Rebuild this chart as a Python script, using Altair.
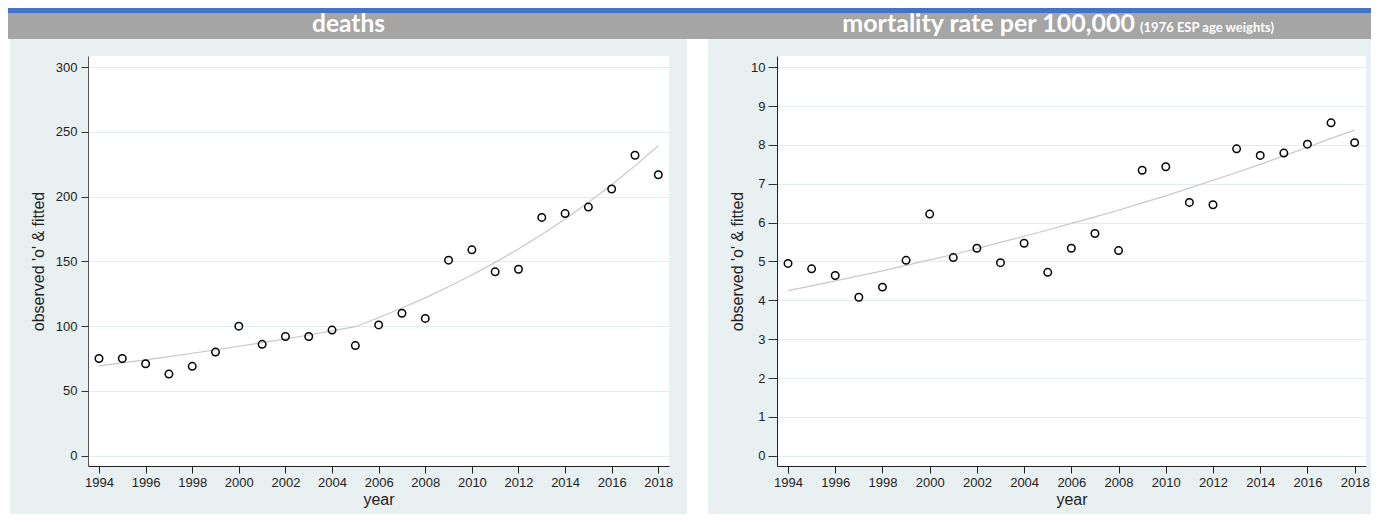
import altair as alt
import pandas as pd

years = list(range(1994, 2019))
deaths = [75, 75, 71, 63, 69, 80, 100, 86, 92, 92, 97, 85, 101, 110, 106,
          151, 159, 142, 144, 184, 187, 192, 206, 232, 217]
deaths_fit = [69.3, 71.6, 74.0, 76.5, 79.1, 81.7, 84.5, 87.3, 90.2, 93.2, 96.4, 99.6,
              106.5, 114.0, 121.9, 130.4, 139.5, 149.3, 159.7, 170.8, 182.8, 195.5,
              209.2, 223.8, 239.4]
rate = [4.95, 4.81, 4.64, 4.08, 4.34, 5.03, 6.22, 5.10, 5.34, 4.97, 5.47, 4.72, 5.34,
        5.72, 5.28, 7.35, 7.44, 6.52, 6.46, 7.90, 7.73, 7.79, 8.02, 8.57, 8.06]
rate_fit = [4.25, 4.37, 4.50, 4.63, 4.76, 4.90, 5.04, 5.18, 5.33, 5.49, 5.65, 5.81, 5.98,
            6.15, 6.32, 6.51, 6.69, 6.89, 7.09, 7.29, 7.50, 7.72, 7.94, 8.17, 8.38]
x_ticks = list(range(1994, 2019, 2))
left_y_ticks = [0, 50, 100, 150, 200, 250, 300]
right_y_ticks = list(range(0, 11))

left_title = "deaths"
right_title_main = "mortality rate per 100,000"
right_title_sub = "(1976 ESP age weights)"
y_title = "observed 'o' & fitted"
x_title = "year"

BLUE = "#4472C4"
HEAD = "#A5A5A5"
PANEL = "#E9F0F2"
GRID = "#E4ECEE"
FONT = "Liberation Sans"
HFONT = "Lato"

LW, RW, H = 581, 589, 410

left_df = pd.DataFrame({"year": years, "observed": deaths, "fitted": deaths_fit})
right_df = pd.DataFrame({"year": years, "observed": rate, "fitted": rate_fit})
one = pd.DataFrame({"k": [0]})


def x_axis(width):
    return alt.Axis(values=x_ticks, format="d", grid=False, domainColor="#222",
                    domainWidth=1, tickColor="#222", tickSize=7, tickWidth=1,
                    labelFont=FONT, labelFontSize=13, labelColor="#222", labelPadding=3,
                    title=x_title, titleFont=FONT, titleFontSize=16,
                    titleFontWeight="normal", titleColor="#222", titleX=width / 2,
                    titleY=38, titleBaseline="alphabetic", titleAlign="center")


def y_axis(ticks, tick_size, pad, title_x, dom_color):
    return alt.Axis(values=ticks, format="d", grid=True, gridColor=GRID, gridWidth=1,
                    domainColor=dom_color, domainWidth=1, tickColor="#333",
                    tickSize=tick_size, tickWidth=1, labelFont=FONT, labelFontSize=13,
                    labelColor="#222", labelPadding=pad, title=y_title, titleFont=FONT,
                    titleFontSize=16, titleFontWeight="normal", titleColor="#222",
                    titleX=title_x, titleY=H / 2, titleAngle=270,
                    titleBaseline="middle", titleAlign="center")


def panel(df, xdom, ydom, yticks, tick_size, pad, title_x, dom_color, width):
    xenc = alt.X("year:Q", scale=alt.Scale(domain=xdom, nice=False, zero=False),
                 axis=x_axis(width))
    line = alt.Chart(df).mark_line(color="#C8C8C8", strokeWidth=1.2).encode(
        x=xenc,
        y=alt.Y("fitted:Q", scale=alt.Scale(domain=ydom, nice=False, zero=False),
                axis=y_axis(yticks, tick_size, pad, title_x, dom_color)),
    )
    pts = alt.Chart(df).mark_point(shape="circle", filled=False, color="black",
                                   size=56, strokeWidth=1.5, opacity=1).encode(
        x=alt.X("year:Q"),
        y=alt.Y("observed:Q"),
    )
    return line, pts


def rect(x1, x2, y1, y2, color):
    return alt.Chart(one).mark_rect(color=color, clip=False).encode(
        x=alt.value(x1), x2=alt.value(x2), y=alt.value(y1), y2=alt.value(y2))


# decorations in left panel coordinates (plot origin at page 88,56)
deco_left = [
    rect(-80, 1283, -48, -43, BLUE),
    rect(-80, 1283, -43, -17, HEAD),
    rect(-80, -78, -17, 458, "white"),
    rect(599, 620, -17, 458, "white"),
    alt.Chart(one).mark_text(text=left_title, font=HFONT, fontSize=24.5, fontWeight="bold",
                             color="white", align="center", baseline="alphabetic").encode(
        x=alt.value(260.5), y=alt.value(-24)),
]

deco_right = [
    alt.Chart(one).mark_text(text=right_title_main, font=HFONT, fontSize=25,
                             fontWeight="bold", color="white", align="right",
                             baseline="alphabetic").encode(
        x=alt.value(358), y=alt.value(-24)),
    alt.Chart(one).mark_text(text=right_title_sub, font=HFONT, fontSize=13,
                             fontWeight="bold", color="white", align="left",
                             baseline="alphabetic").encode(
        x=alt.value(363), y=alt.value(-24)),
]

l_line, l_pts = panel(left_df, [1993.528, 2018.459], [-8, 308.7], left_y_ticks,
                      7, 4, -50, "#555", LW)
r_line, r_pts = panel(right_df, [1993.534, 2018.48], [-0.265, 10.29], right_y_ticks,
                      9, 3, -40, "#222", RW)

left = alt.layer(*deco_left, l_line, l_pts).properties(width=LW, height=H)
right = alt.layer(*deco_right, r_line, r_pts).properties(width=RW, height=H)

chart = alt.hconcat(left, right, spacing=108, bounds="flush").properties(
    background=PANEL, padding=0
).configure_view(fill="white", strokeWidth=0)

chart.save("out.html", embed_options={"renderer": "svg", "actions": False})
